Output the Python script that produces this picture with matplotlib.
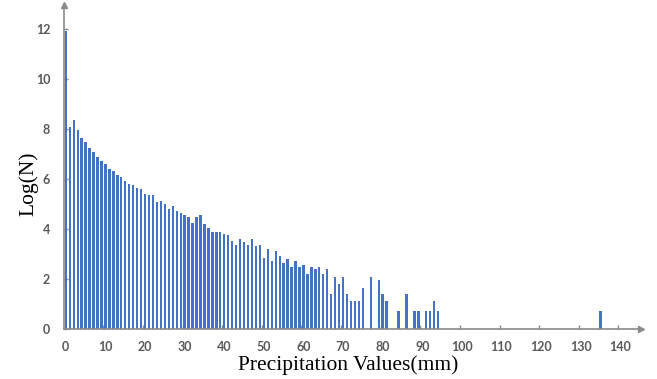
import matplotlib.pyplot as plt

# precipitation value (mm) of each bar and Log(N) of its count
precip_mm = list(range(0, 76)) + [77, 79, 80, 81, 84, 86, 88, 89, 91, 92, 93, 94, 135]
log_n = [
    11.90, 8.07, 8.36, 7.96, 7.63, 7.45, 7.23, 7.05, 6.87, 6.72,
    6.60, 6.40, 6.31, 6.15, 6.05, 5.89, 5.80, 5.76, 5.63, 5.57,
    5.40, 5.36, 5.36, 5.07, 5.12, 5.00, 4.79, 4.92, 4.72, 4.63,
    4.53, 4.45, 4.21, 4.45, 4.53, 4.19, 4.04, 3.87, 3.87, 3.87,
    3.79, 3.73, 3.51, 3.35, 3.60, 3.48, 3.35, 3.59, 3.31, 3.35,
    2.84, 3.19, 2.72, 3.11, 2.89, 2.64, 2.77, 2.48, 2.71, 2.48,
    2.56, 2.20, 2.48, 2.40, 2.48, 2.20, 2.40, 1.39, 2.08, 1.79,
    2.08, 1.39, 1.10, 1.10, 1.10, 1.61,
    2.08, 1.95, 1.39, 1.10, 0.69, 1.39, 0.69, 0.69, 0.69, 0.69, 1.10, 0.69,
    0.69,
]

x_ticks = list(range(0, 150, 10))
y_ticks = list(range(0, 14, 2))

axis_grey = "#8a8a8a"
label_grey = "#595959"
bar_blue = "#4472C4"

fig = plt.figure(figsize=(6.57, 3.79), dpi=100)
ax = fig.add_axes([0.0975, 0.1332, 0.878, 0.8536])

ax.bar(precip_mm, log_n, width=0.6, color=bar_blue, zorder=2)

ax.set_xlim(-0.45, 145.2)
ax.set_ylim(0, 12.94)

for side in ("top", "right"):
    ax.spines[side].set_visible(False)
for side in ("left", "bottom"):
    ax.spines[side].set_color(axis_grey)
    ax.spines[side].set_linewidth(1.2)
    ax.spines[side].set_zorder(3)

# arrow heads at the ends of both axes
ax.plot(1, 0, ">", transform=ax.transAxes, clip_on=False, ms=5, color=axis_grey, zorder=4)
ax.plot(0, 1, "^", transform=ax.transAxes, clip_on=False, ms=5, color=axis_grey, zorder=4)

# labels sit under the bars, tick marks sit between categories
ax.set_xticks(x_ticks)
ax.set_xticklabels([str(v) for v in x_ticks])
ax.set_xticks([v - 0.5 for v in x_ticks[1:]], minor=True)
ax.tick_params(axis="x", which="major", length=0, pad=9)
ax.tick_params(axis="x", which="minor", direction="in", length=3, width=1, color=axis_grey)

ax.set_yticks(y_ticks)
ax.tick_params(axis="y", direction="in", length=3, width=1, color=axis_grey, pad=10)

for lab in ax.get_xticklabels() + ax.get_yticklabels():
    lab.set_fontfamily("Lato")
    lab.set_fontweight("bold")
    lab.set_fontsize(9)
    lab.set_color(label_grey)

fig.text(0.530, 0.037, "Precipitation Values(mm)", family="Liberation Serif",
         fontsize=15.5, ha="center", va="center")
fig.text(0.043, 0.515, "Log(N)", family="Liberation Serif", fontsize=15.5,
         rotation=90, ha="center", va="center")

fig.savefig("out.png", dpi=100)
